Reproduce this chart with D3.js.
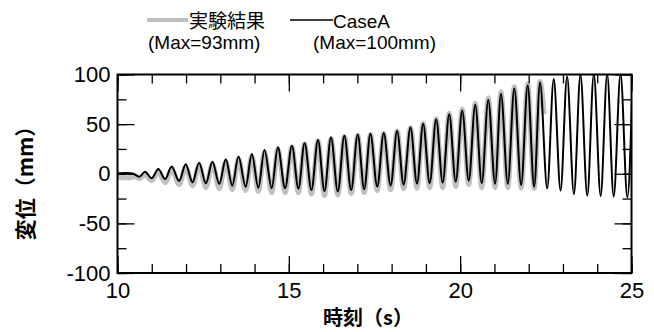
<!DOCTYPE html>
<html>
<head>
<meta charset="utf-8">
<script src="https://cdn.jsdelivr.net/npm/d3@7"></script>
<style>
  body { margin: 0; background: #fff; }
  text { font-family: "Liberation Sans", Arial, sans-serif; }
  .jp { font-family: "Noto Sans CJK JP", "Liberation Sans", sans-serif; }
</style>
</head>
<body>
<div id="container"></div>
<script>
/* CONSTANTS AND GLOBALS */
const width = 654;
const height = 332;
const margin = { top: 74.5, right: 22.5, bottom: 59, left: 117.5 };

/* DATA (peaks and troughs) */
// CaseA : time (s)
const caseT = [10.0, 10.3, 10.46, 10.64, 10.80, 11.0, 11.19, 11.39, 11.58, 11.80, 11.99, 12.19, 12.38, 12.58, 12.77, 12.97,
  13.16, 13.35, 13.53, 13.74, 13.92, 14.11, 14.29, 14.50, 14.68, 14.89, 15.09, 15.28, 15.46, 15.66, 15.85, 16.04,
  16.23, 16.43, 16.62, 16.82, 17.01, 17.20, 17.38, 17.58, 17.77, 17.97, 18.16, 18.35, 18.55, 18.74, 18.92, 19.11,
  19.30, 19.49, 19.68, 19.87, 20.06, 20.25, 20.44, 20.63, 20.82, 21.02, 21.19, 21.39, 21.58, 21.78, 21.97, 22.16,
  22.33, 22.54, 22.73, 22.93, 23.12, 23.32, 23.51, 23.71, 23.90, 24.10, 24.29, 24.48, 24.68, 24.88, 25.02];
// CaseA : displacement (mm)
const caseV = [0.5, 0.8, 0, -3, 2, -4.5, 4.8, -5.3, 7.2, -7.3, 9.6, -8.6, 11.2, -9.6, 12.2, -10.3,
  14.6, -12, 17.3, -13, 20, -14, 24, -14.6, 26.8, -14.6, 28.3, -15, 31, -16.4, 34, -17.4,
  36.5, -18, 38.3, -16.4, 39.5, -15.7, 40.2, -13, 41, -12, 43, -11, 46.5, -10, 50.5, -9.5,
  55, -9, 60, -8, 63.7, -7, 69.5, -9.6, 74.5, -10, 80.6, -10, 86, -11.3, 89, -13,
  92, -14.6, 95.5, -17, 98, -20.4, 100, -22, 100.5, -22.4, 100.5, -23, 100.5, -24, 80];

// 実験結果 : time (s)
const expT = [10.0, 10.3, 10.5, 10.64, 10.80, 11.0, 11.19, 11.39, 11.58, 11.80, 11.99, 12.19, 12.38, 12.58, 12.77, 12.97,
  13.16, 13.35, 13.53, 13.74, 13.92, 14.11, 14.29, 14.50, 14.68, 14.89, 15.09, 15.28, 15.46, 15.66, 15.85, 16.04,
  16.23, 16.43, 16.62, 16.82, 17.01, 17.20, 17.38, 17.58, 17.77, 17.97, 18.16, 18.35, 18.55, 18.74, 18.92, 19.11,
  19.30, 19.49, 19.68, 19.87, 20.06, 20.25, 20.44, 20.63, 20.82, 21.02, 21.19, 21.39, 21.58, 21.78, 21.97, 22.16,
  22.33, 22.45];
// 実験結果 : displacement (mm)
const expV = [-3.5, -4, -3, -5, -1, -7, 2, -9, 4, -11, 6.5, -12, 8.5, -14, 10, -15,
  12, -16, 15, -17, 18, -18, 22, -19, 25, -19, 27, -19, 30, -20.5, 33, -22,
  35.5, -21.5, 37.5, -20, 38.5, -19, 39.5, -17, 40.5, -16, 43, -15, 46.5, -14.5, 51, -14,
  55.5, -14, 61, -13, 65, -11, 71, -14, 76.5, -14, 82.5, -14, 88, -14.5, 91, -15,
  93, 60];

const xMajor = [10, 15, 20, 25];
const yMajor = [-100, -50, 0, 50, 100];

/* SCALES */
const xScale = d3.scaleLinear()
  .domain([10, 25])
  .range([margin.left, width - margin.right]);

const yScale = d3.scaleLinear()
  .domain([-100, 100])
  .range([height - margin.bottom, margin.top]);

/* SVG */
const svg = d3.select("#container")
  .append("svg")
  .attr("width", width)
  .attr("height", height);

svg.append("clipPath")
  .attr("id", "plot-clip")
  .append("rect")
  .attr("x", margin.left)
  .attr("y", margin.top)
  .attr("width", xScale.range()[1] - margin.left)
  .attr("height", yScale.range()[0] - margin.top);

// lines
const line = d3.line()
  .x(d => xScale(d[0]))
  .y(d => yScale(d[1]))
  .curve(d3.curveMonotoneX);

const plot = svg.append("g").attr("clip-path", "url(#plot-clip)");

plot.append("path")
  .datum(d3.zip(expT, expV))
  .attr("d", line)
  .attr("fill", "none")
  .attr("stroke", "#c0c0c0")
  .attr("stroke-width", 5)
  .attr("stroke-linejoin", "round");

plot.append("path")
  .datum(d3.zip(caseT, caseV))
  .attr("d", line)
  .attr("fill", "none")
  .attr("stroke", "#000")
  .attr("stroke-width", 2)
  .attr("stroke-linejoin", "round");

/* AXES */
const bottomY = yScale(-100), topY = yScale(100);
const leftX = xScale(10), rightX = xScale(25);

function styleAxis(g) {
  g.select(".domain").remove();
  g.selectAll(".tick line").attr("stroke", "#000").attr("stroke-width", 1.3);
  g.selectAll(".tick text").attr("font-size", 22).attr("fill", "#000")
    .style("font-family", '"Liberation Sans", Arial, sans-serif');
}

// minor ticks (every 1 s, every 25 mm)
const xMinor = d3.range(10, 25.01, 1);
const yMinor = d3.range(-100, 100.01, 25);

svg.append("g").attr("transform", `translate(0,${bottomY})`)
  .call(d3.axisBottom(xScale).tickValues(xMinor).tickSize(-9).tickFormat("")).call(styleAxis);
svg.append("g").attr("transform", `translate(0,${topY})`)
  .call(d3.axisTop(xScale).tickValues(xMinor).tickSize(-9).tickFormat("")).call(styleAxis);
svg.append("g").attr("transform", `translate(${leftX},0)`)
  .call(d3.axisLeft(yScale).tickValues(yMinor).tickSize(-9).tickFormat("")).call(styleAxis);
svg.append("g").attr("transform", `translate(${rightX},0)`)
  .call(d3.axisRight(yScale).tickValues(yMinor).tickSize(-9).tickFormat("")).call(styleAxis);

// major ticks
svg.append("g").attr("transform", `translate(0,${bottomY})`)
  .call(d3.axisBottom(xScale).tickValues(xMajor).tickSize(-17).tickPadding(9).tickFormat(d3.format("d"))).call(styleAxis);
svg.append("g").attr("transform", `translate(0,${topY})`)
  .call(d3.axisTop(xScale).tickValues(xMajor).tickSize(-17).tickFormat("")).call(styleAxis);
svg.append("g").attr("transform", `translate(${leftX},0)`)
  .call(d3.axisLeft(yScale).tickValues(yMajor).tickSize(-17).tickPadding(7).tickFormat(d => d3.format("d")(d).replace("−", "-"))).call(styleAxis);
svg.append("g").attr("transform", `translate(${rightX},0)`)
  .call(d3.axisRight(yScale).tickValues(yMajor).tickSize(-17).tickFormat("")).call(styleAxis);

// frame
svg.append("rect")
  .attr("x", leftX).attr("y", topY)
  .attr("width", rightX - leftX).attr("height", bottomY - topY)
  .attr("fill", "none").attr("stroke", "#000").attr("stroke-width", 2);

/* AXIS TITLES */
svg.append("text")
  .attr("class", "jp")
  .attr("transform", `translate(33,178) rotate(-90)`)
  .attr("text-anchor", "middle")
  .attr("font-size", 21)
  .attr("font-weight", "bold")
  .text("変位（mm）");

svg.append("text")
  .attr("class", "jp")
  .attr("x", 368).attr("y", 325)
  .attr("text-anchor", "middle")
  .attr("font-size", 20)
  .attr("font-weight", "bold")
  .text("時刻（s）");

/* LEGEND */
const legend = svg.append("g");
legend.append("line")
  .attr("x1", 147).attr("x2", 188).attr("y1", 20).attr("y2", 20)
  .attr("stroke", "#c0c0c0").attr("stroke-width", 4);
legend.append("text").attr("class", "jp")
  .attr("x", 189).attr("y", 28).attr("font-size", 19).text("実験結果");
legend.append("text")
  .attr("x", 148).attr("y", 49).attr("font-size", 19).text("(Max=93mm)");

legend.append("line")
  .attr("x1", 290).attr("x2", 333).attr("y1", 20).attr("y2", 20)
  .attr("stroke", "#000").attr("stroke-width", 1.3);
legend.append("text")
  .attr("x", 333).attr("y", 28).attr("font-size", 19).text("CaseA");
legend.append("text")
  .attr("x", 313).attr("y", 49).attr("font-size", 19).text("(Max=100mm)");
</script>
</body>
</html>
